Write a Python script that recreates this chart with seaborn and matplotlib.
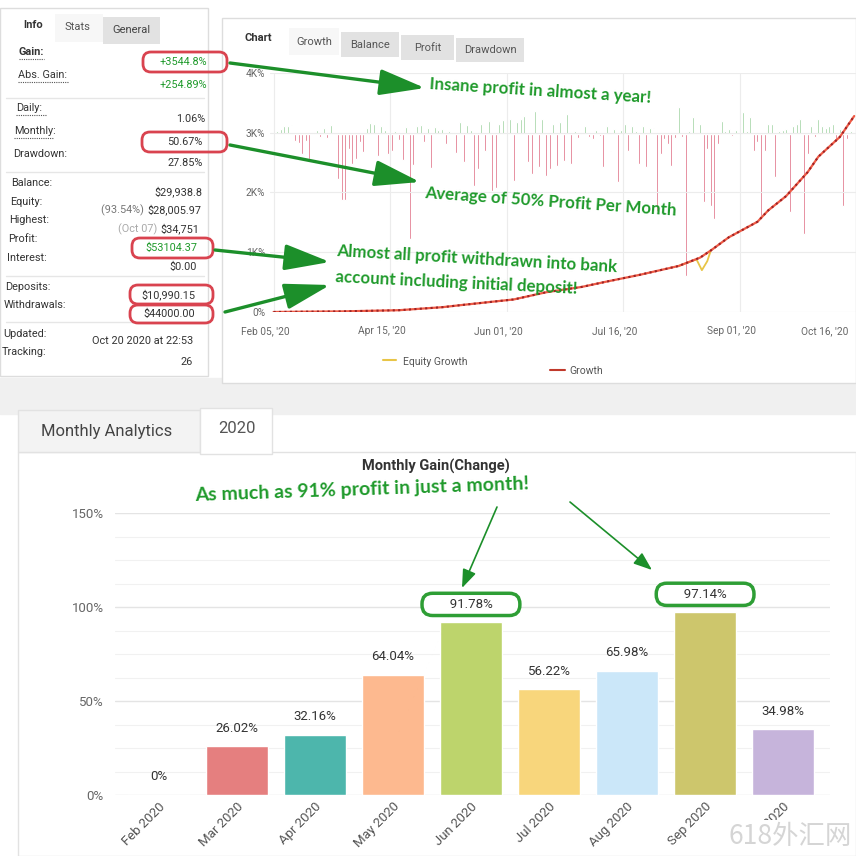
import numpy as np
import matplotlib
matplotlib.use("Agg")
import matplotlib.pyplot as plt
import matplotlib.transforms as mtrans
from matplotlib.patches import FancyBboxPatch, Rectangle
import seaborn as sns

W = H = 856

# ---------- top left: account stats ----------
info_labels = ["Gain:", "Abs. Gain:", "Daily:", "Monthly:", "Drawdown:", "Balance:", "Equity:",
               "Highest:", "Profit:", "Interest:", "Deposits:", "Withdrawals:", "Updated:", "Tracking:"]
info_prefix = ["", "", "", "", "", "", "(93.54%) ", "(Oct 07) ", "", "", "", "", "", ""]
info_values = ["+3544.8%", "+254.89%", "1.06%", "50.67%", "27.85%", "$29,938.8", "$28,005.97",
               "$34,751", "$53104.37", "$0.00", "$10,990.15", "$44000.00", "Oct 20 2020 at 22:53", "26"]

# ---------- top right: growth chart ----------
growth_dates = ["Feb 05, '20", "Apr 15, '20", "Jun 01, '20", "Jul 16, '20", "Sep 01, '20", "Oct 16, '20"]
growth_day = [0, 8, 19, 35, 47, 53, 67, 76, 86, 93, 102, 113, 119, 122, 127, 135, 138, 143, 149, 152, 158, 162]
growth_pct = [0, 5, 10, 30, 80, 120, 210, 330, 420, 510, 620, 770, 910, 1030, 1250, 1510, 1700, 1940,
              2340, 2600, 2930, 3280]
equity_day = [113, 118, 119.5, 121, 122]
equity_pct = [770, 880, 700, 850, 1030]
daily_change = [0, 3, 5, 8, 8, 9, -7, -9, -20, -7, -25, 2, 4, -3, 6, -4, 9, -6, -45, -66, -66, -15, -30,
                 -25, -8, -18, 6, 11, 10, -22, 8, 4, -20, -17, 3, -6, -26, 7, -105, -31, 8, 9, -8, 6, -34,
                 7, 4, 5, -10, 3, 2, -19, 12, -28, 9, 4, -52, -35, 10,
                 -17, 13, -57, -54, 10, 14, 12, 15, -47, 12, 15, 18, -28, -40, 23, -33, 15, -42, -35, 10,
                 -32, 12, -27, 20, -30, 3, -4, 2, 8, -3, -5, 4, -2, -33, 8, -17, 5, -48, 4, 10, -17, 8, 3,
                 -30, 8, -33, 6, 6, -77, -20,
                 -5, -10, -32, -4, 27, -3, -142, 3, 17, 10, 10, -68, -15, -72, -85, -10, 13, 3, 5, -2, 4,
                 10, 22, 3, 17, -17, -8, -82, -17, 10, 10, -43, 3, 4, 5, -78, 8, 10, 15, -100, -20, 8, -3,
                 15, 8, 6, 8, 10, -8, 5, -72, -5, 3]

# ---------- bottom: monthly analytics ----------
months = ["Feb 2020", "Mar 2020", "Apr 2020", "May 2020", "Jun 2020", "Jul 2020", "Aug 2020", "Sep 2020", "Oct 2020"]
monthly_gain = [0, 26.02, 32.16, 64.04, 91.78, 56.22, 65.98, 97.14, 34.98]
month_colors = ["#e57f7f", "#e57f7f", "#4db6ac", "#fdb98f", "#bdd46c", "#f8d67c", "#cbe7f9", "#cdc66c", "#c6b4db"]

GREEN = "#1f9a2b"
RED_BOX = "#d9434f"

sns.set_style("white")
plt.rcParams['font.family'] = ['Roboto', 'DejaVu Sans']

fig = plt.figure(figsize=(8.56, 8.56), dpi=100)


def px(x0, y0, x1, y1):
    return [x0 / W, 1 - y1 / H, (x1 - x0) / W, (y1 - y0) / H]


def overlay(z):
    a = fig.add_axes([0, 0, 1, 1], zorder=z)
    a.set_xlim(0, W)
    a.set_ylim(H, 0)
    a.axis("off")
    a.patch.set_alpha(0)
    return a


bg = overlay(0)
fg = overlay(10)

# background panels
bg.add_patch(Rectangle((0, 378), W, 36, color="#f0f0f0"))
bg.add_patch(Rectangle((0, 8), 208, 368, fc="white", ec="#dddddd", lw=1))
bg.add_patch(Rectangle((222, 18), W - 222, 365, fc="white", ec="#dddddd", lw=1))
bg.add_patch(Rectangle((18, 452), W - 18, H - 452, fc="white", ec="#e2e2e2", lw=1))
bg.add_patch(Rectangle((18, 410), 182, 42, fc="#f3f3f3", ec="#e2e2e2", lw=1))
bg.add_patch(Rectangle((200, 408), 72, 46, fc="white", ec="#e2e2e2", lw=1))

# left tabs
bg.add_patch(Rectangle((55, 14), 48, 28, fc="#f7f7f7", ec="none"))
bg.add_patch(Rectangle((103, 17), 57, 27, fc="#e2e2e2", ec="none"))
fg.text(33, 25, "Info", fontsize=8, fontweight="bold", color="#333", ha="center", va="center")
fg.text(77, 27, "Stats", fontsize=8, color="#555", ha="center", va="center")
fg.text(131, 30, "General", fontsize=8, color="#444", ha="center", va="center")

# info rows
label_x = [19, 18, 16, 14, 13, 11, 10, 9, 8, 7, 5, 4, 3, 2]
label_y = [52, 75, 108, 131, 154, 183, 202, 220, 239, 258, 287, 305, 334, 352]
value_x = [207, 207, 205, 203, 203, 202, 201, 199, 197, 197, 195, 195, 193, 193]
value_y = [62, 85, 119, 142, 163, 192, 210, 229, 248, 267, 295, 314, 341, 362]
green_rows = {0, 1, 8}
for i, lab in enumerate(info_labels):
    fg.text(label_x[i], label_y[i], lab, fontsize=7.8, color="#333",
            fontweight="bold" if i == 0 else "normal", va="center")
    if i in (0, 1, 2, 3):
        fg.plot([label_x[i], label_x[i] + 7 * len(lab) * 0.72], [label_y[i] + 7, label_y[i] + 7],
                ls=(0, (1, 1)), color="#555", lw=0.8)
    col = GREEN if i in green_rows else "#333"
    t = fg.text(value_x[i], value_y[i], info_values[i], fontsize=7.8, color=col, ha="right", va="center")
    if info_prefix[i]:
        fg.annotate(info_prefix[i], xy=(0, 0.5), xycoords=t, ha="right", va="center",
                    fontsize=7.8, color="#777" if i == 6 else "#aaa")
for y in (98, 172, 276, 322):
    bg.plot([6, 204], [y, y], color="#e6e6e6", lw=1)

# red highlight boxes
for (x0, y0, x1, y1) in [(143, 52, 227, 72), (142, 132, 227, 152), (132, 238, 213, 258),
                         (130, 285, 213, 304), (130, 305, 213, 323)]:
    fg.add_patch(FancyBboxPatch((x0, y0), x1 - x0, y1 - y0, boxstyle="round,pad=0,rounding_size=8",
                                fc="none", ec=RED_BOX, lw=2))

# chart tabs
fg.text(258, 38, "Chart", fontsize=8, fontweight="bold", color="#333", ha="center", va="center")
for (x0, x1, y0, y1, name, fc) in [(288, 340, 28, 55, "Growth", "#f7f7f7"), (340, 400, 32, 57, "Balance", "#e2e2e2"),
                                   (400, 455, 35, 60, "Profit", "#e2e2e2"), (455, 525, 38, 62, "Drawdown", "#e2e2e2")]:
    bg.add_patch(Rectangle((x0 + 1, y0), x1 - x0 - 2, y1 - y0, fc=fc, ec="none"))
    fg.text((x0 + x1) / 2, (y0 + y1) / 2, name, fontsize=8, color="#555", ha="center", va="center")

# growth chart
ax_g = fig.add_axes(px(270, 73, 856, 312), zorder=2)
ax_d = ax_g.twinx()
bar_cols = ["#8cc98f" if v >= 0 else "#d9506a" for v in daily_change]
ax_d.bar(np.arange(len(daily_change)), daily_change, width=0.55, color=bar_cols)
ax_d.set_ylim(-178, 61)
ax_d.set_yticks([])
ax_g.set_zorder(ax_d.get_zorder() + 1)
ax_g.patch.set_visible(False)
sns.lineplot(x=equity_day, y=equity_pct, ax=ax_g, color="#e8c547", lw=1.3)
sns.lineplot(x=growth_day, y=growth_pct, ax=ax_g, color="#ef5b45", lw=1.6)
ax_g.plot(growth_day, growth_pct, color="#9b2226", lw=1.5, ls=(0, (1, 1.6)))
ax_g.set_xlim(-1, 162.5)
ax_g.set_ylim(0, 4000)
ax_g.set_yticks([0, 1000, 2000, 3000, 4000], ["0%", "1K%", "2K%", "3K%", "4K%"])
ax_g.set_xticks(np.arange(len(growth_dates)) * 32.5, growth_dates)
ax_g.tick_params(length=0, labelsize=7.3, labelcolor="#666")
ax_g.tick_params(axis="x", pad=10)
shift = mtrans.ScaledTranslation(-8 / 100, 0, fig.dpi_scale_trans)
for lbl in ax_g.get_xticklabels():
    lbl.set_transform(lbl.get_transform() + shift)
ax_g.get_xticklabels()[-1].set_ha("right")
ax_g.grid(color="#ececec", lw=0.8)
for a in (ax_g, ax_d):
    for s in a.spines.values():
        s.set_visible(False)

# growth legend
fg.plot([383, 396], [360, 360], color="#e8c547", lw=1.5)
fg.text(403, 362, "Equity Growth", fontsize=7.5, color="#555", va="center")
fg.plot([550, 565], [370, 370], color="#c0392b", lw=1.5)
fg.text(569, 371, "Growth", fontsize=7.5, color="#555", va="center")

# green annotations on top chart
ann = dict(fontsize=12.2, fontweight="bold", color=GREEN, family=["Lato", "DejaVu Sans"], va="center",
           rotation_mode="anchor")
fg.text(430, 84, "Insane profit in almost a year!", rotation=-3.6, **ann)
fg.text(425, 193, "Average of 50% Profit Per Month", rotation=-4, **ann)
fg.text(337, 251, "Almost all profit withdrawn into bank", rotation=-3.3, **ann)
fg.text(335, 277, "account including initial deposit!", rotation=-2.8, **ann)
big_arrow = dict(arrowstyle="-|>,head_length=1.4,head_width=0.4", color="#1c8f2a", lw=2.4, mutation_scale=20,
                 shrinkA=0, shrinkB=0)
for tail, tip in [((230, 63), (425, 88)), ((230, 145), (420, 182)), ((215, 250), (330, 262)), ((225, 312), (330, 285))]:
    fg.annotate("", xy=tip, xytext=tail, arrowprops=big_arrow)

# monthly analytics
fg.text(107, 431, "Monthly Analytics", fontsize=12, color="#444", ha="center", va="center")
fg.text(237, 428, "2020", fontsize=12, color="#555", ha="center", va="center")
fg.text(436, 466, "Monthly Gain(Change)", fontsize=10.5, fontweight="bold", color="#333", ha="center", va="center")
fg.text(362, 490, "As much as 91% profit in just a month!", fontsize=14, fontweight="bold", color=GREEN,
        family=["Lato", "DejaVu Sans"], ha="center", va="center", rotation=2)

ax_m = fig.add_axes(px(115, 513, 830, 795), zorder=2)
sns.barplot(x=months, y=monthly_gain, hue=months, palette=month_colors, legend=False,
            saturation=1, width=0.8, ax=ax_m)
ax_m.set_xlim(-0.56, 8.6)
ax_m.set_ylim(0, 150)
ax_m.set_yticks([0, 50, 100, 150], ["0%", "50%", "100%", "150%"])
ax_m.set_yticks(np.arange(0, 151, 12.5), minor=True)
ax_m.grid(axis="y", which="major", color="#e4e4e4", lw=1)
ax_m.grid(axis="y", which="minor", color="#f1f1f1", lw=0.8)
ax_m.set_axisbelow(True)
ax_m.tick_params(length=0, which="both", labelsize=9.5, labelcolor="#666")
ax_m.tick_params(axis="y", pad=8)
plt.setp(ax_m.get_xticklabels(), rotation=45, ha="right", rotation_mode="anchor", color="#555")
ax_m.set_xlabel("")
for s in ax_m.spines.values():
    s.set_visible(False)
ax_m.patch.set_visible(False)

for i, v in enumerate(monthly_gain):
    lab = "0%" if v == 0 else f"{v:.2f}%"
    if i in (4, 7):
        ax_m.annotate(f"       {lab}       ", (i, v), xytext=(0, 13), textcoords="offset points", ha="center",
                      va="center", fontsize=9.5, color="#333",
                      bbox=dict(boxstyle="round,pad=0.35,rounding_size=0.8", fc="white", ec="#2e9e35", lw=2.5))
    else:
        ax_m.annotate(lab, (i, v), xytext=(0, 13), textcoords="offset points", ha="center", va="center",
                      fontsize=9.5, color="#333")

thin_arrow = dict(arrowstyle="-|>,head_length=0.8,head_width=0.3", color="#1c8f2a", lw=1.2, mutation_scale=14,
                  shrinkA=0, shrinkB=0)
fg.annotate("", xy=(462, 588), xytext=(497, 507), arrowprops=thin_arrow)
fg.annotate("", xy=(652, 570), xytext=(570, 502), arrowprops=thin_arrow)

# watermark
fg.text(852, 836, "618外汇网", fontsize=19, color="#d5d5d5", ha="right", va="center",
        family=["Noto Sans CJK SC", "DejaVu Sans"],
        bbox=dict(boxstyle="square,pad=0.1", fc="white", ec="none"))

fig.savefig("out.png", dpi=100)
